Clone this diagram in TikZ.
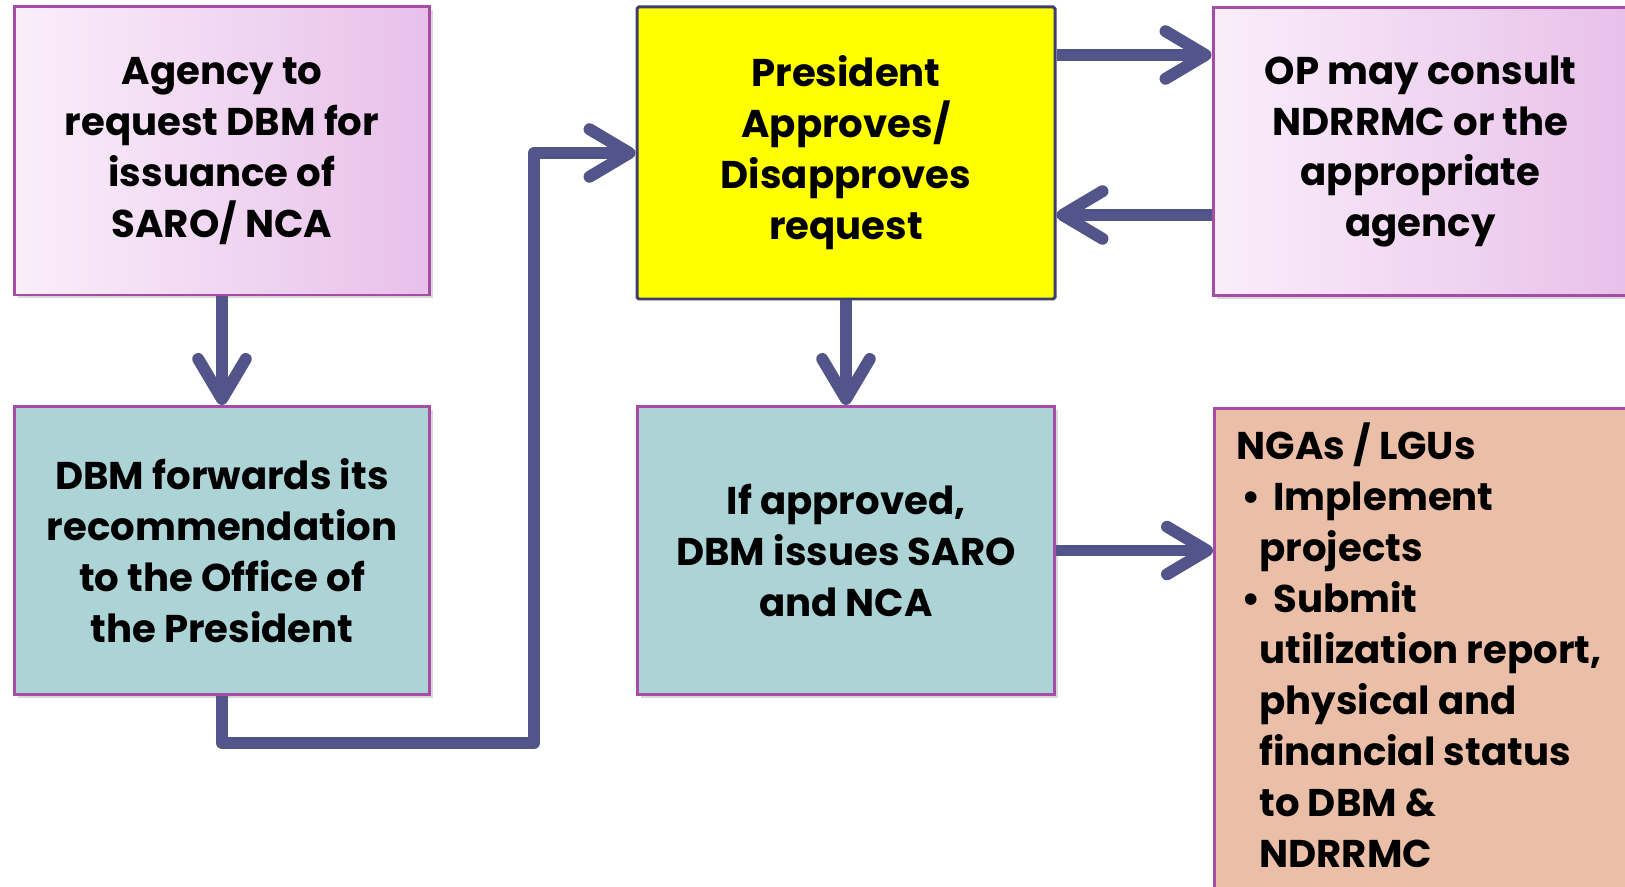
\documentclass[tikz,border=0pt]{standalone}
\usepackage{fontspec}
\setmainfont{Poppins}
\usetikzlibrary{arrows.meta,shadows}

\definecolor{arrowblue}{HTML}{535489}
\definecolor{pinkedge}{HTML}{A64CA6}
\definecolor{pinklight}{HTML}{FAEEFA}
\definecolor{pinkdark}{HTML}{E8C0EA}
\definecolor{tealfill}{HTML}{ACD3D6}
\definecolor{salmonfill}{HTML}{EBBFA7}
\definecolor{navyedge}{HTML}{3E3E6E}
\definecolor{presyellow}{HTML}{FFFF00}

\tikzset{
	basebox/.style={rectangle, line width=1.7pt, minimum width=8.3cm, minimum height=5.76cm, align=center, font=\bfseries\fontsize{22}{29}\selectfont},
	shadowbox/.style={basebox, draw=pinkedge, drop shadow={shadow xshift=0.07cm, shadow yshift=-0.07cm, opacity=0.3}},
	pinkbox/.style={shadowbox, left color=pinklight, right color=pinkdark},
	tealbox/.style={shadowbox, fill=tealfill},
	salmonbox/.style={shadowbox, fill=salmonfill},
	yellowbox/.style={basebox, fill=presyellow, draw=navyedge, rounded corners=1pt},
	flow/.style={draw=arrowblue, line width=6.8pt, line join=round, -{Straight Barb[length=0.8cm, width=0.95cm, round]}}
}

\begin{document}
\begin{tikzpicture}
			\useasboundingbox (0,0) rectangle (32.5,17.72);
			% left column
			\node[pinkbox] (agency) at (4.44,14.70) {Agency to\\request DBM for\\issuance of\\SARO/ NCA};
			\node[tealbox] (forward) at (4.44,6.71) {DBM forwards its\\recommendation\\to the Office of\\the President};
			% middle column
			\node[yellowbox, minimum width=8.36cm, minimum height=5.84cm] (president) at (16.92,14.66) {President\\Approves/\\Disapproves\\request};
			\node[tealbox, minimum width=8.34cm] (approved) at (16.92,6.71) {If approved,\\DBM issues SARO\\and NCA};
			% right column
			\node[pinkbox] (consult) at (28.41,14.69) {OP may consult\\NDRRMC or the\\appropriate\\agency};
			\node[salmonbox, anchor=north west, minimum height=10cm, inner xsep=0.44cm, inner ysep=0pt] (ngas) at (24.26,9.58) {\parbox[t][9.9cm][t]{7.8cm}{\raggedright\vspace*{0.24cm}NGAs / LGUs\\
				\hspace*{0.1cm}\textbullet\hspace{0.25cm}Implement\\
				\hspace*{0.46cm}projects\\
				\hspace*{0.1cm}\textbullet\hspace{0.25cm}Submit\\
				\hspace*{0.46cm}utilization report,\\
				\hspace*{0.46cm}physical and\\
				\hspace*{0.46cm}financial status\\
				\hspace*{0.46cm}to DBM \&\\
				\hspace*{0.46cm}NDRRMC}};
			% connectors
			\coordinate (bend) at (10.68,2.86);
			\draw[flow] (agency) -- (forward);
			\draw[flow] (forward.south) |- (bend) |- (president.west);
			\draw[flow] ([yshift=1.96cm]president.east) -- ([yshift=1.96cm]president.east -| consult.west);
			\draw[flow] ([yshift=-1.27cm]consult.west) -- ([yshift=-1.27cm]consult.west -| president.east);
			\draw[flow] (president) -- (approved);
			\draw[flow] (approved) -- (approved.east -| ngas.west);
\end{tikzpicture}
\end{document}
